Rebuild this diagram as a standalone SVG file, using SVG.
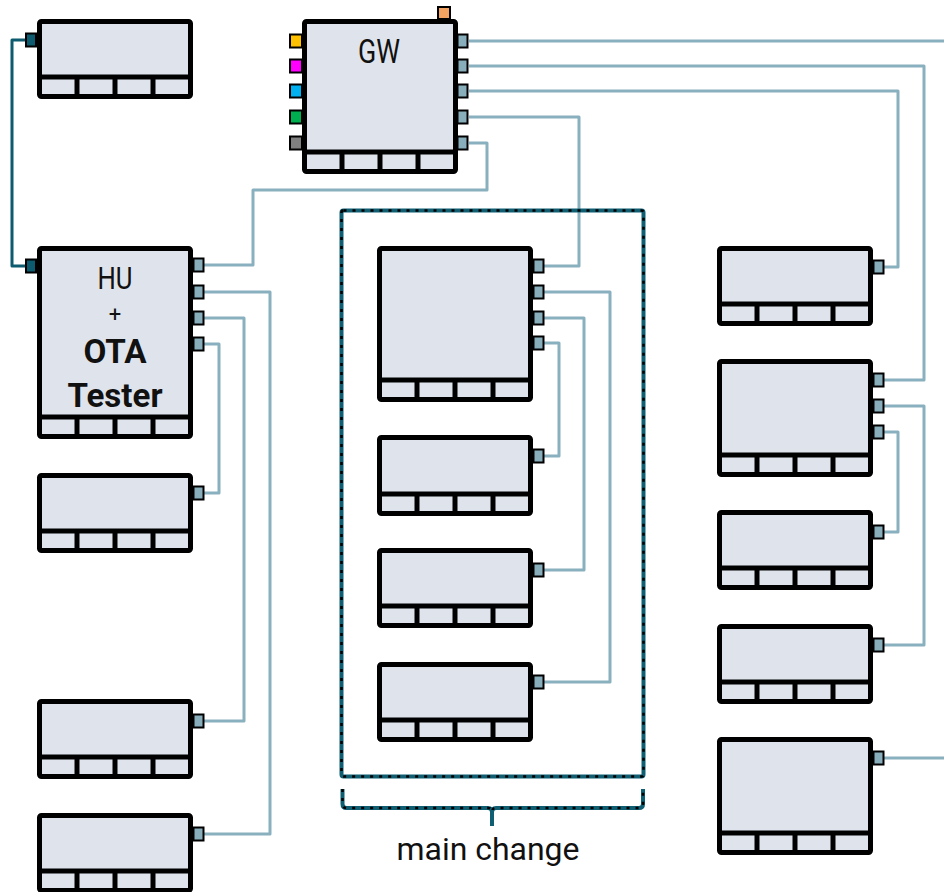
<svg xmlns="http://www.w3.org/2000/svg" width="944" height="892" viewBox="0 0 944 892">
<style>
.box{fill:#dfe4ec;stroke:#000;stroke-width:5;stroke-linejoin:round}
.div{fill:none;stroke:#000;stroke-width:5}
.port{fill:#89aebb;stroke:#000;stroke-width:2}
.conn{fill:none;stroke:#89b0be;stroke-width:3;stroke-linejoin:round}
.dark{fill:none;stroke:#0d5b6f;stroke-width:3;stroke-linejoin:round}
.grpT{fill:none;stroke:#0f5e72;stroke-width:4}
.grpD{fill:none;stroke:#000;stroke-width:2.5;stroke-dasharray:3 6}
.lbl{font-family:Roboto,"Liberation Sans",sans-serif;fill:#111;text-anchor:middle}
</style>
<rect width="944" height="892" fill="#fff"/>
<g id="connectors">
<path class="dark" d="M26,40 H12 V266 H26"/>
<path class="conn" d="M469,41 H944"/>
<path class="conn" d="M469,66 H924 V380 H884"/>
<path class="conn" d="M469,91 H898 V267 H884"/>
<path class="conn" d="M469,117 H579 V266 H544"/>
<path class="conn" d="M469,143 H487 V190 H253 V265 H204"/>
<path class="conn" d="M204,292 H270 V834 H204"/>
<path class="conn" d="M204,318 H244 V721 H204"/>
<path class="conn" d="M204,344 H219 V493 H204"/>
<path class="conn" d="M544,292 H610 V682 H544"/>
<path class="conn" d="M544,318 H584 V570 H544"/>
<path class="conn" d="M544,343 H559 V456 H544"/>
<path class="conn" d="M884,406 H924 V645 H884"/>
<path class="conn" d="M884,432 H898 V532 H884"/>
<path class="conn" d="M884,758 H944"/>
</g>
<g id="main-change">
<rect class="grpT" x="341.5" y="210.5" width="302" height="566" rx="2"/>
<rect class="grpD" x="341.5" y="210.5" width="302" height="566" rx="2"/>
<path class="grpT" d="M342.5,789 V804 Q342.5,808 346.5,808 H488 Q492,808 492,812 Q492,808 496,808 H639 Q643,808 643,804 V789"/>
<path class="grpD" d="M342.5,789 V804 Q342.5,808 346.5,808 H488 Q492,808 492,812 Q492,808 496,808 H639 Q643,808 643,804 V789"/>
<path class="grpT" d="M492,810 V826"/>
<text class="lbl" x="488" y="860" font-size="32" textLength="183" lengthAdjust="spacingAndGlyphs">main change</text>
</g>
<g id="tl">
<rect class="port" x="26" y="33.5" width="10" height="13" style="fill:#0d5b6f"/>
<rect class="box" x="39.5" y="21.5" width="151" height="75" rx="2"/>
<path class="div" d="M39.5,77 H190.5 M77,77 V96 M115,77 V96 M153,77 V96"/>
</g>
<g id="gw">
<rect class="port" x="438" y="7" width="12" height="12" style="fill:#f4a261"/>
<rect class="port" x="290" y="34.5" width="12" height="13" style="fill:#ffc000"/>
<rect class="port" x="290" y="59.5" width="12" height="13" style="fill:#ff00ff"/>
<rect class="port" x="290" y="84.5" width="12" height="13" style="fill:#00b0f0"/>
<rect class="port" x="290" y="110.5" width="12" height="13" style="fill:#00b050"/>
<rect class="port" x="290" y="136.5" width="12" height="13" style="fill:#808080"/>
<rect class="port" x="457.5" y="34.5" width="10" height="13"/>
<rect class="port" x="457.5" y="59.5" width="10" height="13"/>
<rect class="port" x="457.5" y="84.5" width="10" height="13"/>
<rect class="port" x="457.5" y="110.5" width="10" height="13"/>
<rect class="port" x="457.5" y="136.5" width="10" height="13"/>
<rect class="box" x="304.5" y="21.5" width="151" height="150" rx="2"/>
<path class="div" d="M304.5,152 H455.5 M342,152 V171 M380,152 V171 M418,152 V171"/>
<text class="lbl" x="379" y="63" font-size="33" textLength="42" lengthAdjust="spacingAndGlyphs">GW</text>
</g>
<g id="hu">
<rect class="port" x="26" y="259.5" width="10" height="13" style="fill:#0d5b6f"/>
<rect class="port" x="193.5" y="258.5" width="10" height="13"/>
<rect class="port" x="193.5" y="285.5" width="10" height="13"/>
<rect class="port" x="193.5" y="311.5" width="10" height="13"/>
<rect class="port" x="193.5" y="337.5" width="10" height="13"/>
<rect class="box" x="39.5" y="248.5" width="151" height="188" rx="2"/>
<path class="div" d="M39.5,417 H190.5 M77,417 V436 M115,417 V436 M153,417 V436"/>
<text class="lbl" x="115" y="289" font-size="32" textLength="35" lengthAdjust="spacingAndGlyphs">HU</text>
<text class="lbl" x="115" y="322" font-size="22">+</text>
<text class="lbl" x="115" y="363" font-size="34" font-weight="bold" textLength="63" lengthAdjust="spacingAndGlyphs">OTA</text>
<text class="lbl" x="115" y="407" font-size="34" font-weight="bold" textLength="95" lengthAdjust="spacingAndGlyphs">Tester</text>
</g>
<g id="l2">
<rect class="port" x="193.5" y="486.5" width="10" height="13"/>
<rect class="box" x="39.5" y="475.5" width="151" height="75" rx="2"/>
<path class="div" d="M39.5,531 H190.5 M77,531 V550 M115,531 V550 M153,531 V550"/>
</g>
<g id="bl1">
<rect class="port" x="193.5" y="714.5" width="10" height="13"/>
<rect class="box" x="39.5" y="701.5" width="151" height="75" rx="2"/>
<path class="div" d="M39.5,757 H190.5 M77,757 V776 M115,757 V776 M153,757 V776"/>
</g>
<g id="bl2">
<rect class="port" x="193.5" y="827.5" width="10" height="13"/>
<rect class="box" x="39.5" y="815.5" width="151" height="75" rx="2"/>
<path class="div" d="M39.5,871 H190.5 M77,871 V890 M115,871 V890 M153,871 V890"/>
</g>
<g id="m1">
<rect class="port" x="533.5" y="259.5" width="10" height="13"/>
<rect class="port" x="533.5" y="285.5" width="10" height="13"/>
<rect class="port" x="533.5" y="311.5" width="10" height="13"/>
<rect class="port" x="533.5" y="336.5" width="10" height="13"/>
<rect class="box" x="379.5" y="248.5" width="151" height="151" rx="2"/>
<path class="div" d="M379.5,380 H530.5 M417,380 V399 M455,380 V399 M493,380 V399"/>
</g>
<g id="m2">
<rect class="port" x="533.5" y="449.5" width="10" height="13"/>
<rect class="box" x="379.5" y="437.5" width="151" height="76" rx="2"/>
<path class="div" d="M379.5,494 H530.5 M417,494 V513 M455,494 V513 M493,494 V513"/>
</g>
<g id="m3">
<rect class="port" x="533.5" y="563.5" width="10" height="13"/>
<rect class="box" x="379.5" y="550.5" width="151" height="75" rx="2"/>
<path class="div" d="M379.5,606 H530.5 M417,606 V625 M455,606 V625 M493,606 V625"/>
</g>
<g id="m4">
<rect class="port" x="533.5" y="675.5" width="10" height="13"/>
<rect class="box" x="379.5" y="664.5" width="151" height="75" rx="2"/>
<path class="div" d="M379.5,720 H530.5 M417,720 V739 M455,720 V739 M493,720 V739"/>
</g>
<g id="r1">
<rect class="port" x="873.5" y="260.5" width="10" height="13"/>
<rect class="box" x="719.5" y="248.5" width="151" height="75" rx="2"/>
<path class="div" d="M719.5,304 H870.5 M757,304 V323 M795,304 V323 M833,304 V323"/>
</g>
<g id="r2">
<rect class="port" x="873.5" y="373.5" width="10" height="13"/>
<rect class="port" x="873.5" y="399.5" width="10" height="13"/>
<rect class="port" x="873.5" y="425.5" width="10" height="13"/>
<rect class="box" x="719.5" y="361.5" width="151" height="113" rx="2"/>
<path class="div" d="M719.5,455 H870.5 M757,455 V474 M795,455 V474 M833,455 V474"/>
</g>
<g id="r3">
<rect class="port" x="873.5" y="525.5" width="10" height="13"/>
<rect class="box" x="719.5" y="512.5" width="151" height="75" rx="2"/>
<path class="div" d="M719.5,568 H870.5 M757,568 V587 M795,568 V587 M833,568 V587"/>
</g>
<g id="r4">
<rect class="port" x="873.5" y="638.5" width="10" height="13"/>
<rect class="box" x="719.5" y="626.5" width="151" height="75" rx="2"/>
<path class="div" d="M719.5,682 H870.5 M757,682 V701 M795,682 V701 M833,682 V701"/>
</g>
<g id="r5">
<rect class="port" x="873.5" y="751.5" width="10" height="13"/>
<rect class="box" x="719.5" y="739.5" width="151" height="113" rx="2"/>
<path class="div" d="M719.5,833 H870.5 M757,833 V852 M795,833 V852 M833,833 V852"/>
</g>
</svg>
